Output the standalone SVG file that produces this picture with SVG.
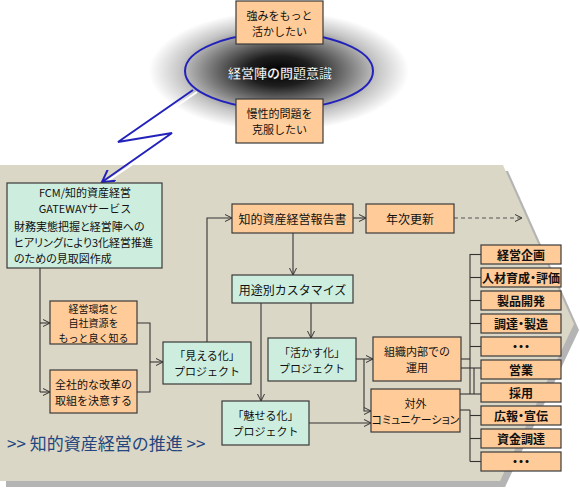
<svg xmlns="http://www.w3.org/2000/svg" width="580" height="488" viewBox="0 0 580 488">
<style>
text{font-family:"Noto Sans CJK JP","Noto Sans",sans-serif;font-size:12px;fill:#111;dominant-baseline:central}
.c{text-anchor:middle}
.t2{font-size:11px}
.t3{font-size:10px}
.or{fill:#ffcc99;stroke:#3a3a3a;stroke-width:1.2}
.mt{fill:#cdeedf;stroke:#3a3a3a;stroke-width:1.2}
.ln{fill:none;stroke:#333;stroke-width:1.1}
.ar{marker-end:url(#arr)}
.rc{font-size:12px;font-weight:bold;font-feature-settings:"palt"}
.p{font-feature-settings:"palt"}
</style>
<defs>
<marker id="arr" viewBox="0 0 8 8" refX="7" refY="4" markerWidth="8" markerHeight="8" markerUnits="userSpaceOnUse" orient="auto">
<path d="M0,0.5 L7,4 L0,7.5" fill="none" stroke="#333" stroke-width="1"/>
</marker>
<marker id="barr" viewBox="0 0 14 14" refX="12" refY="7" markerWidth="14" markerHeight="14" markerUnits="userSpaceOnUse" orient="auto">
<path d="M0,0 L12,7 L0,14" fill="none" stroke="#2222bb" stroke-width="2"/>
</marker>
<radialGradient id="halo" cx="0.5" cy="0.5" r="0.5">
<stop offset="0" stop-color="#000"/>
<stop offset="0.25" stop-color="#1e1e1e"/>
<stop offset="0.55" stop-color="#808080"/>
<stop offset="0.75" stop-color="#c4c4c4"/>
<stop offset="1" stop-color="#fff"/>
</radialGradient>
</defs>
<rect width="580" height="488" fill="#fff"/>
<g id="background">
<polygon points="6,171 508,171 579,330 505,487 6,487" fill="#b4b4b4"/>
<polygon points="0,165 503,165 574,324 500,481 0,481" fill="#dbd7c6"/>
</g>
<g id="problem">
<ellipse cx="279" cy="71" rx="130" ry="60" fill="url(#halo)"/>
<ellipse cx="279" cy="71" rx="94" ry="38" fill="none" stroke="#2222bb" stroke-width="2"/>
<text class="c" x="280" y="72" style="font-size:13px;font-weight:bold;fill:#fff;stroke:#000;stroke-width:0.3">経営陣の問題意識</text>
</g>
<g id="bolt">
<polyline points="195,91 120,143 174,134 104,181" fill="none" stroke="#fff" stroke-width="2" transform="translate(2,1)"/>
<polyline points="193,90 118,142 172,133 102,182" fill="none" stroke="#2222bb" stroke-width="2" marker-end="url(#barr)"/>
</g>
<g id="n-strength">
<rect class="or" x="236" y="1" width="87" height="43"/>
<text class="c t2" x="279.5" y="14.5">強みをもっと</text>
<text class="c t2" x="279.5" y="30.5">活かしたい</text>
</g>
<g id="n-chronic">
<rect class="or" x="236" y="99" width="87" height="44"/>
<text class="c t2" x="279.5" y="113">慢性的問題を</text>
<text class="c t2" x="279.5" y="129">克服したい</text>
</g>
<g id="connectors">
<polyline class="ln" points="40,268 40,392"/>
<line class="ln ar" x1="40" y1="323" x2="50" y2="323"/>
<line class="ln ar" x1="40" y1="392" x2="50" y2="392"/>
<polyline class="ln" points="137,323 150,323 150,392 137,392"/>
<line class="ln ar" x1="150" y1="362" x2="163" y2="362"/>
<polyline class="ln ar" points="207,342 207,218 232,218"/>
<line class="ln ar" x1="353" y1="218" x2="366" y2="218"/>
<line class="ln ar" x1="454" y1="218" x2="522" y2="218" stroke-dasharray="4,3" style="stroke:#555"/>
<line class="ln ar" x1="293" y1="233" x2="293" y2="275"/>
<line class="ln ar" x1="261" y1="303" x2="261" y2="401"/>
<line class="ln ar" x1="311" y1="303" x2="311" y2="338"/>
<line class="ln ar" x1="356" y1="359" x2="373" y2="359"/>
<polyline class="ln ar" points="364,359 364,411 371,411"/>
<line class="ln ar" x1="309" y1="423" x2="371" y2="423"/>
<line class="ln" x1="461" y1="359" x2="470" y2="359"/>
<line class="ln" x1="470" y1="254" x2="470" y2="394"/>
<line class="ln" x1="470" y1="254.5" x2="481" y2="254.5"/>
<line class="ln" x1="470" y1="277.5" x2="481" y2="277.5"/>
<line class="ln" x1="470" y1="300.5" x2="481" y2="300.5"/>
<line class="ln" x1="470" y1="323.5" x2="481" y2="323.5"/>
<line class="ln" x1="470" y1="346.5" x2="481" y2="346.5"/>
<line class="ln" x1="461" y1="368" x2="481" y2="368"/>
<line class="ln" x1="474" y1="368" x2="474" y2="394"/>
<line class="ln" x1="460" y1="394" x2="481" y2="394"/>
<line class="ln" x1="460" y1="410" x2="470" y2="410"/>
<line class="ln" x1="470" y1="410" x2="470" y2="461.5"/>
<line class="ln" x1="470" y1="415.5" x2="481" y2="415.5"/>
<line class="ln" x1="470" y1="438.5" x2="481" y2="438.5"/>
<line class="ln" x1="470" y1="461.5" x2="481" y2="461.5"/>
</g>
<g id="n-fcm">
<rect class="mt" x="7" y="183" width="155" height="85"/>
<text class="c t2" x="85" y="192">FCM/知的資産経営</text>
<text class="c t2" x="85" y="208">GATEWAYサービス</text>
<text class="t2 p" x="14" y="226">財務実態把握と経営陣への</text>
<text class="t2 p" x="14" y="242">ヒアリングにより3化経営推進</text>
<text class="t2 p" x="14" y="258">のための見取図作成</text>
</g>
<g id="n-env">
<rect class="or" x="50" y="301" width="87" height="43"/>
<text class="c t3" x="93.5" y="308">経営環境と</text>
<text class="c t3" x="93.5" y="322.5">自社資源を</text>
<text class="c t3" x="93.5" y="337">もっと良く知る</text>
</g>
<g id="n-reform">
<rect class="or" x="50" y="370" width="87" height="43"/>
<text class="c t2" x="93.5" y="383.5">全社的な改革の</text>
<text class="c t2" x="93.5" y="399.5">取組を決意する</text>
</g>
<g id="n-mieru">
<rect class="mt" x="163" y="342" width="88" height="42"/>
<text class="c t2" x="207" y="355">「見える化」</text>
<text class="c t2" x="207" y="371">プロジェクト</text>
</g>
<g id="n-report">
<rect class="or" x="232" y="204" width="121" height="29"/>
<text class="c" x="292.5" y="218.5">知的資産経営報告書</text>
</g>
<g id="n-annual">
<rect class="or" x="366" y="204" width="88" height="29"/>
<text class="c" x="410" y="218.5">年次更新</text>
</g>
<g id="n-custom">
<rect class="mt" x="232" y="275" width="121" height="28"/>
<text class="c" x="292.5" y="289">用途別カスタマイズ</text>
</g>
<g id="n-ikasu">
<rect class="mt" x="268" y="338" width="88" height="43"/>
<text class="c t2" x="312" y="351.5">「活かす化」</text>
<text class="c t2" x="312" y="367.5">プロジェクト</text>
</g>
<g id="n-miseru">
<rect class="mt" x="222" y="401" width="87" height="44"/>
<text class="c t2" x="265.5" y="415">「魅せる化」</text>
<text class="c t2" x="265.5" y="431">プロジェクト</text>
</g>
<g id="n-internal">
<rect class="or" x="373" y="337" width="88" height="44"/>
<text class="c t2" x="417" y="351">組織内部での</text>
<text class="c t2" x="417" y="367">運用</text>
</g>
<g id="n-external">
<rect class="or" x="371" y="389" width="89" height="43"/>
<text class="c t2" x="415.5" y="402.5">対外</text>
<text class="c t2 p" x="415.5" y="418.5">コミュニケーション</text>
</g>
<g id="n-r1"><rect class="or" x="481" y="245" width="80" height="19"/><text class="c rc" x="521" y="254.5">経営企画</text></g>
<g id="n-r2"><rect class="or" x="481" y="268" width="80" height="19"/><text class="c rc" x="521" y="277.5">人材育成・評価</text></g>
<g id="n-r3"><rect class="or" x="481" y="291" width="80" height="19"/><text class="c rc" x="521" y="300.5">製品開発</text></g>
<g id="n-r4"><rect class="or" x="481" y="314" width="80" height="19"/><text class="c rc" x="521" y="323.5">調達・製造</text></g>
<g id="n-r5"><rect class="or" x="481" y="337" width="80" height="19"/><text class="c rc" x="521" y="346.5">・・・</text></g>
<g id="n-r6"><rect class="or" x="481" y="360" width="80" height="19"/><text class="c rc" x="521" y="369.5">営業</text></g>
<g id="n-r7"><rect class="or" x="481" y="383" width="80" height="19"/><text class="c rc" x="521" y="392.5">採用</text></g>
<g id="n-r8"><rect class="or" x="481" y="406" width="80" height="19"/><text class="c rc" x="521" y="415.5">広報・宣伝</text></g>
<g id="n-r9"><rect class="or" x="481" y="429" width="80" height="19"/><text class="c rc" x="521" y="438.5">資金調達</text></g>
<g id="n-r10"><rect class="or" x="481" y="452" width="80" height="19"/><text class="c rc" x="521" y="461.5">・・・</text></g>
<g id="title">
<text x="7" y="442" style="font-size:17px;fill:#24467e">&gt;&gt; 知的資産経営の推進 &gt;&gt;</text>
</g>
</svg>
